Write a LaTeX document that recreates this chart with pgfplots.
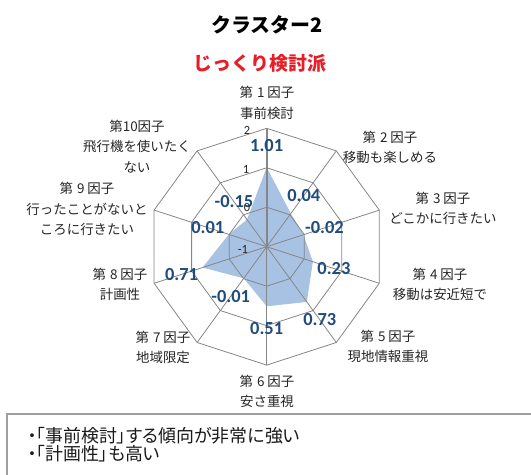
\documentclass[border=0pt]{standalone}
\usepackage{fontspec}
\setmainfont{Carlito}
\newfontfamily\jp{Noto Sans CJK JP}
\newfontfamily\jpp[RawFeature=+palt]{Noto Sans CJK JP}
\usepackage{pgfplots}
\pgfplotsset{compat=1.18}
\usepgfplotslibrary{polar}
\definecolor{fillblue}{RGB}{168,194,227}
\definecolor{labblue}{RGB}{31,75,125}
\definecolor{gridgray}{RGB}{134,134,134}
\definecolor{titlered}{RGB}{230,30,40}
\newcommand\fac[1]{第\kern0.3em#1\kern0.2em 因子}

\begin{document}
\begin{tikzpicture}
\useasboundingbox (0,0) rectangle (531bp,475bp);
\begin{polaraxis}[
    at={(266.7bp,228.3bp)}, anchor=center,
    scale only axis, width=236.8bp, height=236.8bp,
    xmin=0, xmax=360, ymin=0, ymax=3,
    hide axis, clip=false,
    shifted/.style={y filter/.expression={y+1}},
    grid line/.style={gridgray, line width=0.8bp, shifted, no markers},
]
% cluster 2 factor scores (drawn first, the grid lies over it)
\addplot[fill=fillblue, draw=none, shifted] coordinates {
    (90,1.01) (54,0.04) (18,-0.02) (342,0.23) (306,0.73)
    (270,0.51) (234,-0.01) (198,0.71) (162,0.01) (126,-0.15)
};
% value rings at 0, 1, 2 (the centre is -1)
\addplot[grid line] coordinates {(90,0) (54,0) (18,0) (342,0) (306,0) (270,0) (234,0) (198,0) (162,0) (126,0) (90,0)};
\addplot[grid line] coordinates {(90,1) (54,1) (18,1) (342,1) (306,1) (270,1) (234,1) (198,1) (162,1) (126,1) (90,1)};
\addplot[grid line] coordinates {(90,2) (54,2) (18,2) (342,2) (306,2) (270,2) (234,2) (198,2) (162,2) (126,2) (90,2)};
% spokes
\addplot[grid line] coordinates {(54,-1) (54,2)};
\addplot[grid line] coordinates {(18,-1) (18,2)};
\addplot[grid line] coordinates {(342,-1) (342,2)};
\addplot[grid line] coordinates {(306,-1) (306,2)};
\addplot[grid line] coordinates {(270,-1) (270,2)};
\addplot[grid line] coordinates {(234,-1) (234,2)};
\addplot[grid line] coordinates {(198,-1) (198,2)};
\addplot[grid line] coordinates {(162,-1) (162,2)};
\addplot[grid line] coordinates {(126,-1) (126,2)};
\addplot[grid line, line width=1.6bp] coordinates {(90,-1) (90,2)};

% value labels, set a little outside each point
\addplot[draw=none, no markers, y filter/.expression={y+1.56},
    nodes near coords, point meta=explicit symbolic,
    every node near coord/.append style={anchor=center, text=labblue,
        font=\bfseries\fontsize{18.5}{18.5}\selectfont}]
    coordinates {
    (90,1.01) [1.01] (54,0.04) [0.04] (18,-0.02) [-0.02] (342,0.23) [0.23]
    (306,0.73) [0.73] (270,0.51) [0.51] (234,-0.01) [-0.01] (198,0.71) [0.71]
    (162,0.01) [0.01] (126,-0.15) [-0.15]
};
\end{polaraxis}

\begin{scope}[shift={(0bp,475bp)}, x=1bp, y=-1bp,
    cat/.style={font=\jp\fontsize{13.5}{20.5}\selectfont, align=center, text=black!85},
    tick/.style={font=\fontsize{12.5}{12.5}\selectfont, text=black!85}]
\node[font=\jp\bfseries\fontsize{20}{20}\selectfont] at (267,25) {クラスター2};
\node[font=\jp\bfseries\fontsize{19}{19}\selectfont, text=titlered] at (260,63) {じっくり検討派};

\node[tick] at (247,130) {2};
\node[tick] at (246,169) {1};
\node[tick] at (247,208) {0};
\node[tick] at (243,249) {-1};

\node[cat] at (267,103) {\fac{1}\\事前検討};
\node[cat] at (390,147.5) {\fac{2}\\移動も楽しめる};
\node[cat] at (443,208.5) {\fac{3}\\どこかに行きたい};
\node[cat] at (440,284.5) {\fac{4}\\移動は安近短で};
\node[cat] at (388,346.5) {\fac{5}\\現地情報重視};
\node[cat] at (267,391.5) {\fac{6}\\安さ重視};
\node[cat] at (163,347.5) {\fac{7}\\地域限定};
\node[cat] at (120,284.5) {\fac{8}\\計画性};
\node[cat] at (87,209) {\fac{9}\\行ったことがないと\\ころに行きたい};
\node[cat] at (137,146.5) {第10因子\\飛行機を使いたく\\ない};

\draw[gray!75, line width=1.5bp] (7,414) rectangle (560,520);
\node[anchor=west, align=left, font=\jpp\fontsize{18}{18}\selectfont, text=black!90]
    at (24,445) {・「事前検討」する傾向が非常に強い\\・「計画性」も高い};
\end{scope}
\end{tikzpicture}
\end{document}
